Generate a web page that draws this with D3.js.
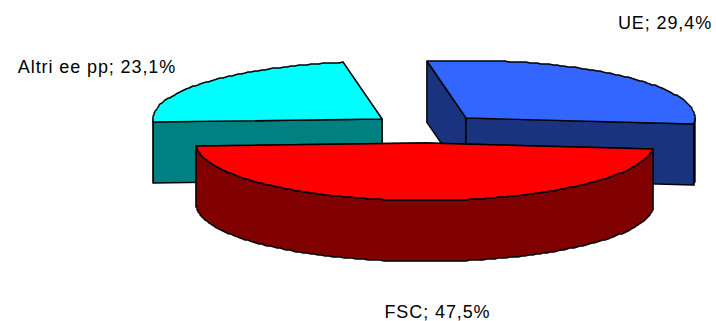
<!DOCTYPE html>
<html><head><meta charset="utf-8">
<script src="https://cdn.jsdelivr.net/npm/d3@7/dist/d3.min.js"></script>
<style>html,body{margin:0;padding:0;background:#fff}svg{display:block}</style>
</head><body><script>
const categories = ["FSC", "Altri ee pp", "UE"];
const shares = [47.5, 23.1, 29.4];
const valueLabels = ["47,5%", "23,1%", "29,4%"];
const topColors = ["#FF0000", "#00FFFF", "#3366FF"];
const sideColors = ["#800000", "#008080", "#1A337F"];
const apexes = [[425, 143], [382, 119], [466, 118]];
const labelAnchors = [[437.5, 318], [97, 73], [665, 29]];
const firstSliceDeg = 96;

const W = 716, H = 321, RX = 229, RY = 57.5, DEPTH = 61;
const svg = d3.select("body").append("svg").attr("width", W).attr("height", H);

const pie = d3.pie().sort(null)
  .startAngle(firstSliceDeg * Math.PI / 180)
  .endAngle((firstSliceDeg + 360) * Math.PI / 180);
const arcs = pie(shares);
const sx = d3.scaleLinear().domain([-1, 1]).range([-RX, RX]);
const sy = d3.scaleLinear().domain([-1, 1]).range([RY, -RY]);
const line = d3.line();

function pt(apex, a, dz) {
  return [apex[0] + sx(Math.sin(a)), apex[1] + sy(Math.cos(a)) + (dz || 0)];
}
function rim(apex, a0, a1, dz) {
  const n = Math.max(2, Math.ceil(Math.abs(a1 - a0) * 55));
  return d3.range(n + 1).map(i => {
    const p = pt(apex, a0 + (a1 - a0) * i / n, dz);
    return [Math.round(p[0]), Math.round(p[1])];
  });
}
function facePath(points) { return line(points) + "Z"; }
function styled(sel, fill) {
  return sel.attr("fill", fill).attr("stroke", "#000")
    .attr("stroke-width", 1.4).attr("stroke-linejoin", "round");
}
function drawSlice(i) {
  const d = arcs[i], apex = apexes[i], side = sideColors[i];
  const g = svg.append("g").attr("class", "slice");
  const low = [apex[0], apex[1] + DEPTH];
  const edges = [d.startAngle, d.endAngle]
    .map(a => ({ a, y: pt(apex, a)[1] }))
    .sort((p, q) => p.y - q.y);
  edges.forEach(e => {
    const p = pt(apex, e.a);
    styled(g.append("path").attr("d", facePath([apex, p, [p[0], p[1] + DEPTH], low])), side);
  });
  // outer wall: only the front half of the rim (90deg..270deg, modulo turn)
  const T = 2 * Math.PI;
  [[Math.PI / 2, 3 * Math.PI / 2], [Math.PI / 2 + T, 3 * Math.PI / 2 + T]].forEach(([f0, f1]) => {
    const a0 = Math.max(d.startAngle, f0), a1 = Math.min(d.endAngle, f1);
    if (a1 > a0) {
      const top = rim(apex, a0, a1, 0), bottom = rim(apex, a1, a0, DEPTH);
      styled(g.append("path").attr("d", facePath(top.concat(bottom))), side);
    }
  });
  styled(g.append("path").attr("d", facePath([apex].concat(rim(apex, d.startAngle, d.endAngle, 0)))), topColors[i]);
}
[1, 2, 0].forEach(drawSlice);

svg.append("g").selectAll("text").data(categories).join("text")
  .attr("x", (d, i) => labelAnchors[i][0])
  .attr("y", (d, i) => labelAnchors[i][1])
  .attr("text-anchor", "middle")
  .attr("font-family", "'Liberation Sans', Arial, sans-serif")
  .attr("font-size", 18)
  .attr("letter-spacing", 0.9)
  .attr("fill", "#000")
  .text((d, i) => d + "; " + valueLabels[i]);
</script></body></html>
